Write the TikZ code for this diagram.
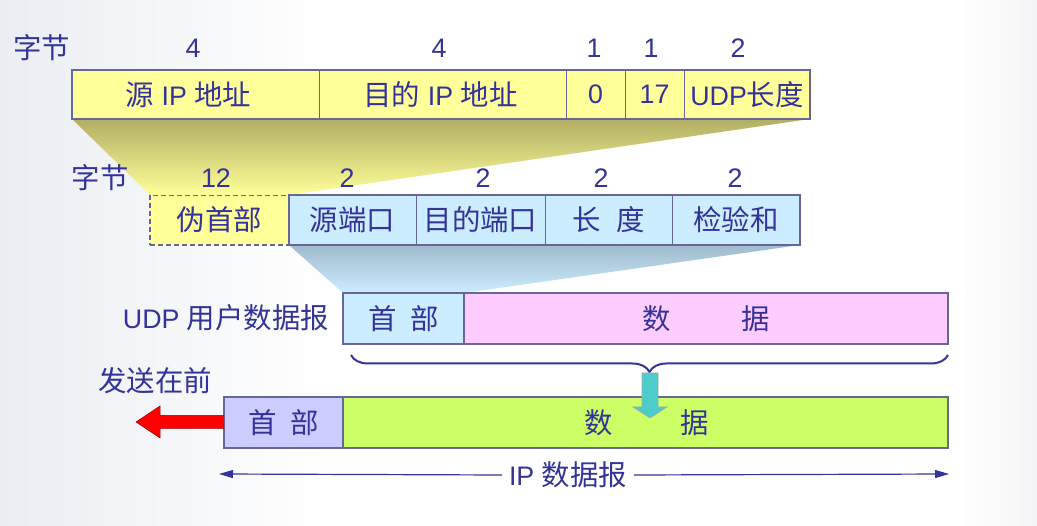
\documentclass[tikz,border=0pt]{standalone}
\usepackage{fontspec}
\setmainfont{Liberation Sans}
\newfontfamily\zhfont[Scale=1.06]{Noto Sans CJK SC}
\newcommand{\zhs}[1]{{\zhfont #1}}
\usetikzlibrary{decorations.pathreplacing,arrows.meta}
\definecolor{txt}{RGB}{51,51,153}
\definecolor{bord}{RGB}{102,102,153}
\definecolor{ylw}{RGB}{255,255,153}
\definecolor{lblue}{RGB}{204,236,255}
\definecolor{pink}{RGB}{255,204,255}
\definecolor{grn}{RGB}{204,255,102}
\definecolor{lav}{RGB}{204,204,255}
\definecolor{cyanarr}{RGB}{77,204,204}
\definecolor{olive}{RGB}{178,174,100}
\definecolor{shblue}{RGB}{160,186,205}
\begin{document}
\begin{tikzpicture}[x=1pt,y=-1pt,
  every node/.style={font=\fontsize{26.8pt}{32pt}\selectfont, text=txt},
  fbox/.style={draw=bord, line width=1pt, inner sep=0pt, outer sep=0pt, anchor=north west},
  lbl/.style={inner sep=0pt},
  outline/.style={draw=bord, line width=2pt}
]
\useasboundingbox (0,0) rectangle (1037,526);
% background
\fill[white] (0,0) rectangle (1037,526);
\shade[left color={rgb,255:red,234;green,237;blue,242}, right color=white] (0,0) rectangle (330,526);
\shade[left color=white, right color={rgb,255:red,244;green,244;blue,246}] (960,0) rectangle (1037,526);

% row 1 boxes
\node[fbox, fill=ylw, minimum width=247pt, minimum height=49pt] (s1) at (72,70) {};
\node[fbox, fill=ylw, minimum width=247pt, minimum height=49pt] (s2) at (319,70) {};
\node[fbox, fill=ylw, minimum width=59pt, minimum height=49pt] (s3) at (566,70) {};
\node[fbox, fill=ylw, minimum width=59pt, minimum height=49pt] (s4) at (625,70) {};
\node[fbox, fill=ylw, minimum width=126pt, minimum height=49pt] (s5) at (684,70) {};

% row 2 boxes
\node[fbox, fill=ylw, dashed, line width=1.6pt, dash pattern=on 5pt off 3pt, minimum width=139pt, minimum height=50pt] (p1) at (150,195) {};
\node[fbox, fill=lblue, minimum width=127pt, minimum height=50pt] (p2) at (289,195) {};
\node[fbox, fill=lblue, minimum width=129pt, minimum height=50pt] (p3) at (416,195) {};
\node[fbox, fill=lblue, minimum width=127pt, minimum height=50pt] (p4) at (545,195) {};
\node[fbox, fill=lblue, minimum width=128pt, minimum height=50pt] (p5) at (672,195) {};

% UDP datagram
\node[fbox, fill=lblue, minimum width=121pt, minimum height=51pt] (u1) at (343,293) {};
\node[fbox, fill=pink, minimum width=484pt, minimum height=51pt] (u2) at (464,293) {};

% IP datagram
\node[fbox, fill=lav, minimum width=119pt, minimum height=51pt] (i1) at (224,397) {};
\node[fbox, fill=grn, minimum width=605pt, minimum height=51pt] (i2) at (343,397) {};

% shaded trapezoids
\shade[top color=olive, bottom color=ylw] (s1.south west) -- (s5.south east) -- (p2.north west) -- (p1.north west) -- cycle;
\shade[top color=shblue, bottom color=lblue] (p2.south west) -- (p5.south east) -- (u1.north east) -- (u1.north west) -- cycle;

% redraw borders on top
\draw[bord, line width=1pt] (s2.north west) -- (s2.south west) (s3.north west) -- (s3.south west) (s4.north west) -- (s4.south west) (s5.north west) -- (s5.south west);
\draw[outline] (s1.north west) rectangle (s5.south east);
\draw[bord, line width=1pt] (p3.north west) -- (p3.south west) (p4.north west) -- (p4.south west) (p5.north west) -- (p5.south west);
\draw[outline] (p2.north west) rectangle (p5.south east);
\draw[bord, line width=1.5pt] (p2.north west) -- (p2.south west);
\draw[bord, line width=1.5pt] (u1.north west) rectangle (u2.south east) (u2.north west) -- (u2.south west);
\draw[outline] (i1.north west) rectangle (i2.south east) (i2.north west) -- (i2.south west);

% row 1 texts
\node[lbl] at ([xshift=-7pt]s1.center) {\zhs{源} IP \zhs{地址}};
\node[lbl] at ([xshift=-2pt]s2.center) {\zhs{目的} IP \zhs{地址}};
\node[lbl] at (s3.center) {0};
\node[lbl] at (s4.center) {17};
\node[lbl] at (s5.center) {UDP\zhs{长度}};
\node[lbl] (b1) at (42,48) {\zhs{字节}};
\node[lbl] (n1) at (193,48) {4};
\node[lbl] (n2) at (439,48) {4};
\node[lbl] (n3) at (594,48) {1};
\node[lbl] (n4) at (651,48) {1};
\node[lbl] (n5) at (738,48) {2};

% row 2 texts
\node[lbl] at (p1.center) {\zhs{伪首部}};
\node[lbl] at (p2.center) {\zhs{源端口}};
\node[lbl] at (p3.center) {\zhs{目的端口}};
\node[lbl] at (p4.center) {\zhs{长\hspace{16pt}度}};
\node[lbl] at (p5.center) {\zhs{检验和}};
\node[lbl] (b2) at (100,178) {\zhs{字节}};
\node[lbl] (m1) at (216,178) {12};
\node[lbl] (m2) at (347,178) {2};
\node[lbl] (m3) at (483,178) {2};
\node[lbl] (m4) at (601,178) {2};
\node[lbl] (m5) at (735,178) {2};

% UDP texts
\node[lbl] (udplbl) at (226,318) {UDP \zhs{用户数据报}};
\node[lbl] at (u1.center) {\zhs{首\hspace{14pt}部}};
\node[lbl] at (u2.center) {\zhs{数\hspace{70pt}据}};

% IP texts
\node[lbl] at (i1.center) {\zhs{首\hspace{14pt}部}};
\node[lbl] at ([xshift=1pt]i2.center) {\zhs{数\hspace{68pt}据}};
\node[lbl] (send) at (155,381) {\zhs{发送在前}};

% brace
\coordinate (bl) at (351,355);
\coordinate (br) at (948,355);
\draw[txt, line width=2pt, decorate, decoration={brace, amplitude=17pt, mirror}] (bl) -- (br);

% cyan arrow
\draw[fill=cyanarr, draw=gray!70, line width=0.6pt] (642,373) -- (658,373) -- (658,407) -- (667,407) -- (650,418) -- (633,407) -- (642,407) -- cycle;

% red arrow
\draw[fill=red, draw=red!60!black, line width=0.5pt] (i1.west |- 0,415.5) -- (160,415.5) -- (160,406) -- (136,422) -- (160,438) -- (160,428.5) -- (i1.west |- 0,428.5);

% IP datagram span arrow
\node[inner sep=7pt] (iplbl) at (568,475) {IP \zhs{数据报}};
\coordinate (ipl) at (219,474);
\coordinate (ipr) at (949,474);
\draw[txt, line width=1.2pt, -{Triangle[length=14pt,width=8pt]}] (iplbl.west) -- (ipl);
\draw[txt, line width=1.2pt, -{Triangle[length=14pt,width=8pt]}] (iplbl.east) -- (ipr);
\end{tikzpicture}
\end{document}
